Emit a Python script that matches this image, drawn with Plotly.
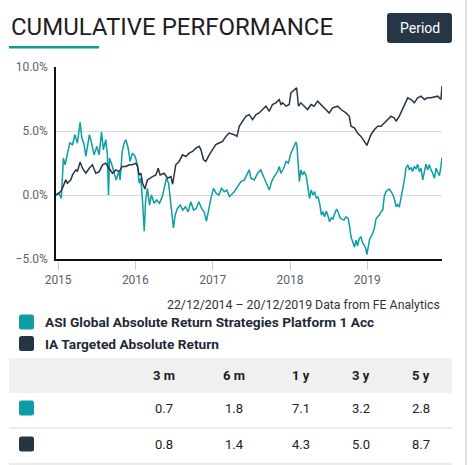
import plotly.graph_objects as go

# ---------------- DATA ----------------
asi_name = "ASI Global Absolute Return Strategies Platform 1 Acc"
ia_name = "IA Targeted Absolute Return"

asi_dates = [
    "2014-12-22", "2015-01-05", "2015-01-16", "2015-01-21", "2015-01-26", "2015-02-03", "2015-02-14",
    "2015-02-25", "2015-03-10", "2015-03-21", "2015-04-02", "2015-04-15", "2015-04-23", "2015-05-04",
    "2015-05-12", "2015-05-23", "2015-05-29", "2015-06-08", "2015-06-20", "2015-07-03", "2015-07-14",
    "2015-07-25", "2015-08-03", "2015-08-14", "2015-08-22", "2015-08-27", "2015-09-01", "2015-09-12",
    "2015-09-23", "2015-10-02", "2015-10-15", "2015-10-21", "2015-10-31", "2015-11-09", "2015-11-17",
    "2015-11-28", "2015-12-07", "2015-12-18", "2015-12-31", "2016-01-11", "2016-01-19", "2016-01-27",
    "2016-02-04", "2016-02-12", "2016-02-18", "2016-02-27", "2016-03-08", "2016-03-17", "2016-03-30",
    "2016-04-11", "2016-04-24", "2016-05-07", "2016-05-16", "2016-05-27", "2016-06-06", "2016-06-14",
    "2016-06-21", "2016-06-29", "2016-07-07", "2016-07-18", "2016-07-31", "2016-08-12", "2016-08-25",
    "2016-09-07", "2016-09-19", "2016-10-02", "2016-10-14", "2016-10-27", "2016-11-09", "2016-11-21",
    "2016-12-02", "2016-12-13", "2016-12-23", "2017-01-04", "2017-01-17", "2017-01-30", "2017-02-11",
    "2017-02-24", "2017-03-08", "2017-03-21", "2017-04-12", "2017-04-28", "2017-05-14", "2017-05-30",
    "2017-06-14", "2017-06-22", "2017-06-30", "2017-07-16", "2017-08-01", "2017-08-16", "2017-09-01",
    "2017-09-12", "2017-09-25", "2017-10-06", "2017-10-18", "2017-11-03", "2017-11-11", "2017-11-19",
    "2017-12-02", "2017-12-13", "2017-12-24", "2018-01-05", "2018-01-15", "2018-01-23", "2018-01-29",
    "2018-02-03", "2018-02-07", "2018-02-14", "2018-02-21", "2018-03-01", "2018-03-09", "2018-03-19",
    "2018-03-27", "2018-04-03", "2018-04-11", "2018-04-19", "2018-04-27", "2018-05-05", "2018-05-13",
    "2018-05-21", "2018-05-29", "2018-06-05", "2018-06-13", "2018-06-21", "2018-06-29", "2018-07-07",
    "2018-07-15", "2018-07-23", "2018-07-31", "2018-08-09", "2018-08-17", "2018-08-25", "2018-09-03",
    "2018-09-13", "2018-09-22", "2018-10-02", "2018-10-10", "2018-10-16", "2018-10-24", "2018-11-01",
    "2018-11-09", "2018-11-16", "2018-11-24", "2018-12-02", "2018-12-10", "2018-12-18", "2018-12-24",
    "2018-12-30", "2019-01-06", "2019-01-12", "2019-01-18", "2019-01-26", "2019-02-03", "2019-02-11",
    "2019-02-19", "2019-02-27", "2019-03-07", "2019-03-15", "2019-03-22", "2019-03-30", "2019-04-07",
    "2019-04-15", "2019-04-23", "2019-05-01", "2019-05-09", "2019-05-17", "2019-05-25", "2019-06-01",
    "2019-06-09", "2019-06-17", "2019-06-25", "2019-07-03", "2019-07-11", "2019-07-19", "2019-07-27",
    "2019-08-03", "2019-08-11", "2019-08-19", "2019-08-27", "2019-09-04", "2019-09-12", "2019-09-20",
    "2019-09-28", "2019-10-05", "2019-10-13", "2019-10-21", "2019-10-29", "2019-11-06", "2019-11-14",
    "2019-11-22", "2019-11-30", "2019-12-08", "2019-12-15", "2019-12-20",
]
asi_values = [
    0.0, 0.13, -0.26, 1.05, 2.88, 2.36, 3.14,
    4.06, 3.93, 4.71, 4.06, 5.68, 4.45, 3.93,
    3.01, 4.19, 4.71, 4.06, 3.14, 3.80, 3.14,
    4.92, 3.53, 4.32, 3.14, 0.0, 2.88, 2.36,
    1.57, 1.18, 1.83, 1.18, 3.40, 4.06, 4.32,
    3.67, 2.62, 3.27, 3.01, 2.36, 0.92, 1.31,
    -0.52, -2.83, -0.52, 0.52, -0.79, 0.0, -0.65,
    -0.39, -0.65, -0.13, 0.52, 1.31, 0.92, -0.52,
    -1.57, -2.57, -1.57, -1.05, -0.79, -1.18, -0.92,
    -1.31, -0.52, -1.18, -1.05, -0.52, -1.05, -1.31,
    -2.04, -1.05, -0.26, 0.52, 0.13, 0.0, 0.52,
    0.26, 0.39, -0.13, 0.26, 0.65, 1.05, 1.18,
    1.70, 1.96, 1.31, 1.18, 1.70, 1.96, 1.31,
    0.84, 0.39, 1.05, 1.44, 1.83, 2.23, 1.70,
    2.09, 2.62, 2.49, 3.27, 3.66, 3.93, 4.14,
    3.80, 2.88, 1.05, 1.96, 1.57, 1.83, 1.44,
    0.52, -0.26, 0.39, 0.0, 0.26, -0.26, -0.13,
    -0.65, -1.57, -1.31, -1.70, -1.26, -1.62, -2.09,
    -1.78, -1.88, -1.44, -1.10, -1.36, -1.78, -1.88,
    -1.96, -1.70, -1.83, -2.49, -3.27, -3.66, -4.06,
    -3.53, -3.98, -3.40, -3.27, -3.72, -3.93, -4.14,
    -4.66, -3.93, -3.46, -3.27, -3.01, -2.62, -1.88,
    -1.70, -1.57, -1.31, -1.18, -0.13, 0.26, 0.39,
    0.47, 0.26, 0.05, -0.31, -0.92, -0.73, -0.94,
    -0.26, 0.39, 1.18, 2.09, 2.36, 1.96, 2.15,
    1.83, 2.23, 2.04, 2.41, 1.83, 2.09, 1.18,
    1.96, 2.41, 1.96, 2.36, 1.96, 1.70, 1.31,
    2.09, 1.78, 1.52, 2.23, 2.93,
]

ia_dates = [
    "2014-12-22", "2015-01-13", "2015-01-21", "2015-01-29", "2015-02-06", "2015-02-14", "2015-03-02",
    "2015-03-10", "2015-03-26", "2015-04-02", "2015-04-15", "2015-04-26", "2015-05-12", "2015-05-28",
    "2015-06-12", "2015-06-28", "2015-07-14", "2015-07-30", "2015-08-14", "2015-08-30", "2015-09-15",
    "2015-10-01", "2015-10-16", "2015-11-01", "2015-11-17", "2015-12-03", "2015-12-18", "2016-01-03",
    "2016-01-11", "2016-01-19", "2016-01-27", "2016-02-04", "2016-02-15", "2016-02-27", "2016-03-09",
    "2016-03-22", "2016-04-07", "2016-04-18", "2016-04-27", "2016-05-16", "2016-06-01", "2016-06-17",
    "2016-06-25", "2016-07-02", "2016-07-10", "2016-07-26", "2016-08-11", "2016-08-27", "2016-09-11",
    "2016-09-27", "2016-10-13", "2016-10-29", "2016-11-06", "2016-11-18", "2016-11-29", "2016-12-15",
    "2016-12-31", "2017-01-15", "2017-01-31", "2017-02-16", "2017-03-04", "2017-03-19", "2017-04-12",
    "2017-04-25", "2017-05-06", "2017-05-22", "2017-06-06", "2017-06-22", "2017-07-08", "2017-07-24",
    "2017-08-08", "2017-08-24", "2017-09-09", "2017-09-25", "2017-10-10", "2017-10-26", "2017-11-11",
    "2017-11-19", "2017-11-27", "2017-12-13", "2017-12-28", "2018-01-05", "2018-01-21", "2018-02-01",
    "2018-02-10", "2018-02-21", "2018-03-09", "2018-03-25", "2018-04-10", "2018-04-25", "2018-05-11",
    "2018-05-27", "2018-06-12", "2018-07-05", "2018-07-21", "2018-08-14", "2018-08-30", "2018-09-22",
    "2018-10-08", "2018-10-16", "2018-11-01", "2018-11-16", "2018-12-02", "2018-12-10", "2018-12-18",
    "2018-12-30", "2019-01-11", "2019-01-18", "2019-02-03", "2019-02-19", "2019-03-07", "2019-03-22",
    "2019-04-07", "2019-04-23", "2019-05-09", "2019-05-17", "2019-06-01", "2019-06-17", "2019-06-25",
    "2019-07-11", "2019-07-27", "2019-08-11", "2019-08-27", "2019-09-12", "2019-09-28", "2019-10-13",
    "2019-10-29", "2019-11-14", "2019-11-30", "2019-12-15", "2019-12-20",
]
ia_values = [
    0.0, 0.26, 0.52, 0.92, 1.18, 0.92, 1.18,
    1.57, 1.96, 1.83, 2.57, 2.09, 1.70, 2.09,
    2.36, 1.70, 1.83, 2.36, 2.49, 2.09, 1.70,
    1.96, 1.83, 2.23, 2.23, 2.36, 2.36, 2.49,
    2.23, 1.57, 1.70, 0.92, 0.47, 1.18, 1.31,
    1.44, 1.57, 2.09, 1.57, 1.70, 1.31, 1.44,
    0.84, 1.44, 2.36, 2.62, 3.14, 3.01, 3.27,
    3.40, 3.66, 3.80, 3.53, 2.75, 2.62, 3.14,
    3.53, 3.93, 4.06, 4.19, 4.58, 4.84, 4.71,
    4.58, 5.37, 5.76, 6.15, 6.28, 5.89, 6.28,
    6.41, 6.68, 6.94, 6.54, 7.07, 7.20, 7.46,
    7.07, 7.20, 6.94, 7.07, 7.98, 8.25, 8.38,
    6.94, 7.20, 6.94, 6.68, 7.07, 6.94, 7.33,
    7.07, 6.81, 6.41, 6.81, 6.94, 6.68, 6.41,
    6.15, 5.37, 5.24, 4.84, 4.58, 4.32, 4.19,
    3.87, 4.32, 4.71, 5.10, 5.37, 5.37, 5.63,
    5.89, 6.15, 6.02, 5.76, 6.15, 6.68, 6.94,
    7.59, 7.46, 7.20, 7.59, 7.72, 7.46, 7.59,
    7.59, 7.64, 7.72, 7.46, 8.51,
]

y_tick_values = [-5, 0, 5, 10]
y_tick_labels = ["\u22125.0%", "0.0%", "5.0%", "10.0%"]
x_tick_labels = ["2015", "2016", "2017", "2018", "2019"]
x_tick_dates = ["2015-01-01", "2016-01-01", "2017-01-01", "2018-01-01", "2019-01-01"]

periods = ["3 m", "6 m", "1 y", "3 y", "5 y"]
asi_perf = [0.7, 1.8, 7.1, 3.2, 2.8]
ia_perf = [0.8, 1.4, 4.3, 5.0, 8.7]

title_text = "CUMULATIVE PERFORMANCE"
button_text = "Period"
source_text = "22/12/2014 \u2013 20/12/2019 Data from FE Analytics"

# ---------------- STYLE ----------------
TEAL = "#0e9da5"
NAVY = "#263545"
FONT = "Roboto, 'DejaVu Sans', sans-serif"
W, H = 475, 465
L, R, T, B = 56, 442, 67, 259


def px(x):
    return (x - L) / (R - L)


def py(y):
    return (B - y) / (B - T)


def rrect(x0, y0, x1, y1, r):
    pts = [
        f"M{px(x0 + r)},{py(y0)}",
        f"L{px(x1 - r)},{py(y0)}",
        f"Q{px(x1)},{py(y0)} {px(x1)},{py(y0 + r)}",
        f"L{px(x1)},{py(y1 - r)}",
        f"Q{px(x1)},{py(y1)} {px(x1 - r)},{py(y1)}",
        f"L{px(x0 + r)},{py(y1)}",
        f"Q{px(x0)},{py(y1)} {px(x0)},{py(y1 - r)}",
        f"L{px(x0)},{py(y0 + r)}",
        f"Q{px(x0)},{py(y0)} {px(x0 + r)},{py(y0)}",
        "Z",
    ]
    return " ".join(pts)


fig = go.Figure()
fig.add_trace(go.Scatter(x=asi_dates, y=asi_values, mode="lines", name=asi_name,
                         line=dict(color=TEAL, width=1.5), showlegend=False))
fig.add_trace(go.Scatter(x=ia_dates, y=ia_values, mode="lines", name=ia_name,
                         line=dict(color=NAVY, width=1.5), showlegend=False))

shapes = []
annotations = []

annotations.append(dict(text=title_text, x=px(9), y=py(27), xref="paper", yref="paper",
                        xanchor="left", yanchor="middle", showarrow=False,
                        font=dict(family=FONT, size=24, color="#1e1e1e")))
shapes.append(dict(type="rect", xref="paper", yref="paper", x0=px(9), x1=px(99), y0=py(46), y1=py(48.5),
                   fillcolor="#0a9e96", line=dict(width=0)))
shapes.append(dict(type="path", xref="paper", yref="paper", path=rrect(387, 13, 452, 43, 3),
                   fillcolor="#263646", line=dict(width=0)))
annotations.append(dict(text=button_text, x=px(419.5), y=py(28), xref="paper", yref="paper",
                        xanchor="center", yanchor="middle", showarrow=False,
                        font=dict(family=FONT, size=14, color="white")))
shapes.append(dict(type="line", xref="paper", yref="paper", x0=px(466), x1=px(466), y0=py(0), y1=py(465),
                   line=dict(color="#d6d6d6", width=1.5)))

annotations.append(dict(text=source_text, x=px(442), y=py(305), xref="paper", yref="paper",
                        xanchor="right", yanchor="middle", showarrow=False,
                        font=dict(family=FONT, size=12.3, color="#333333")))

for name, col, yc in [(asi_name, TEAL, 322), (ia_name, NAVY, 343.5)]:
    shapes.append(dict(type="path", xref="paper", yref="paper",
                       path=rrect(19, yc - 7.5, 34, yc + 7.5, 2.5), fillcolor=col, line=dict(width=0)))
    annotations.append(dict(text=f"<b>{name}</b>", x=px(43), y=py(yc), xref="paper", yref="paper",
                            xanchor="left", yanchor="middle", showarrow=False,
                            font=dict(family=FONT, size=13.7, color="#1e2a36")))

col_x = [164, 234, 301, 361, 421]
shapes.append(dict(type="rect", xref="paper", yref="paper", x0=px(9), x1=px(452), y0=py(358), y1=py(393),
                   fillcolor="#f0f0f0", line=dict(width=0), layer="below"))
for yy in [428, 464]:
    shapes.append(dict(type="line", xref="paper", yref="paper", x0=px(9), x1=px(452), y0=py(yy), y1=py(yy),
                       line=dict(color="#e6e6e6", width=1.5)))
for p, cx in zip(periods, col_x):
    annotations.append(dict(text=f"<b>{p}</b>", x=px(cx), y=py(375), xref="paper", yref="paper",
                            xanchor="center", yanchor="middle", showarrow=False,
                            font=dict(family=FONT, size=13, color="#1e1e1e")))
for vals, col, yc in [(asi_perf, TEAL, 408), (ia_perf, NAVY, 444)]:
    shapes.append(dict(type="path", xref="paper", yref="paper",
                       path=rrect(19, yc - 7.5, 34, yc + 7.5, 2.5), fillcolor=col, line=dict(width=0)))
    for v, cx in zip(vals, col_x):
        annotations.append(dict(text=f"{v:.1f}", x=px(cx), y=py(yc), xref="paper", yref="paper",
                                xanchor="center", yanchor="middle", showarrow=False,
                                font=dict(family=FONT, size=13, color="#222222")))

fig.update_layout(
    width=W, height=H, autosize=False,
    margin=dict(l=L, r=W - R, t=T, b=H - B, pad=0),
    paper_bgcolor="white", plot_bgcolor="white",
    font=dict(family=FONT),
    shapes=shapes, annotations=annotations,
    xaxis=dict(range=["2014-12-22", "2019-12-20"], tickvals=x_tick_dates, ticktext=x_tick_labels,
               showgrid=False, zeroline=False, showline=True, linecolor="#111111", linewidth=1.5,
               ticks="outside", ticklen=9, tickcolor="#c5ced8", tickwidth=1,
               tickfont=dict(family=FONT, size=12, color="#5a6270")),
    yaxis=dict(range=[-5, 10], tickvals=y_tick_values, ticktext=y_tick_labels,
               showgrid=True, gridcolor="#d9d9d9", gridwidth=1, zeroline=False,
               showline=True, linecolor="#111111", linewidth=1.5, ticks="", ticklabelstandoff=4,
               tickfont=dict(family=FONT, size=12, color="#5a6270")),
)

fig.write_html("out.html", config={"displayModeBar": False},
               post_script="document.body.style.margin='0';document.body.style.overflow='hidden';")
